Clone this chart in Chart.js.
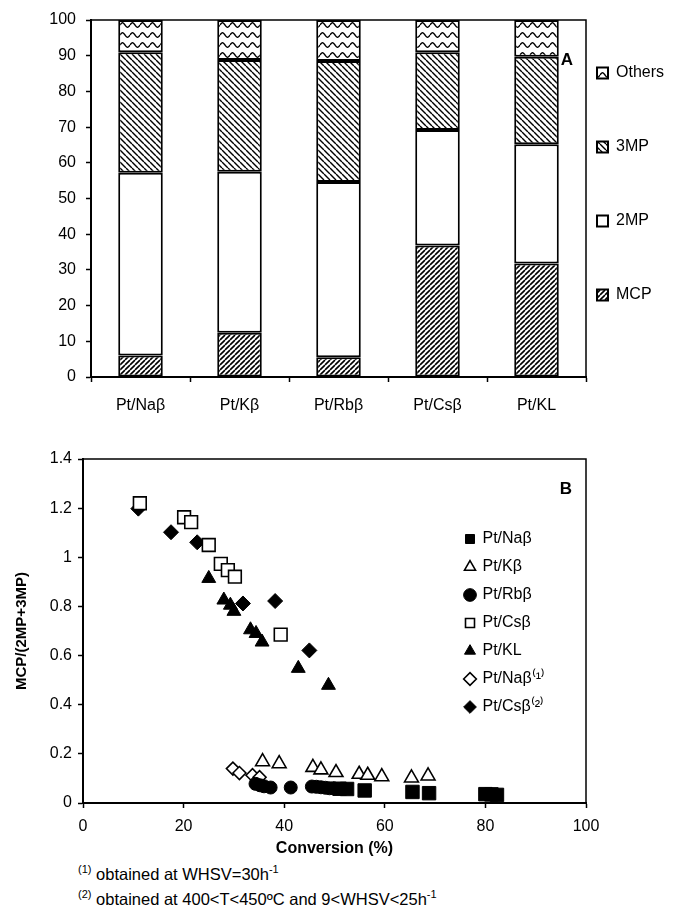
<!DOCTYPE html>
<html>
<head>
<meta charset="utf-8">
<script src="https://cdn.jsdelivr.net/npm/chart.js@4.4.1/dist/chart.umd.min.js"></script>
<style>
  html, body { margin: 0; padding: 0; background: #fff; }
  #wrap { position: relative; width: 675px; height: 919px; font-family: 'Liberation Sans', Arial, sans-serif; color: #000; }
  #barChart { position: absolute; left: 0; top: 0; }
  #scatterChart { position: absolute; left: 0; top: 430px; }
  .note { position: absolute; left: 78px; font-size: 16.5px; white-space: nowrap; }
  .note sup { font-size: 11px; }
</style>
</head>
<body>
<div id="wrap">
  <canvas id="barChart" width="675" height="420"></canvas>
  <canvas id="scatterChart" width="675" height="430"></canvas>
  <div class="note" style="top:863px"><sup>(1)</sup> obtained at WHSV=30h<sup>-1</sup></div>
  <div class="note" style="top:888px"><sup>(2)</sup> obtained at 400&lt;T&lt;450ºC and 9&lt;WHSV&lt;25h<sup>-1</sup></div>
</div>
<script>
// panel A: product distribution (%)
const catalysts = ['Pt/Naβ', 'Pt/Kβ', 'Pt/Rbβ', 'Pt/Csβ', 'Pt/KL'];
const mcpVals = [6.0, 12.4, 5.5, 36.8, 31.8];
const twoMpVals = [51.2, 45.1, 49.1, 32.4, 33.4];
const threeMpVals = [33.8, 31.3, 33.9, 21.8, 24.5];
const otherVals = [9.0, 11.2, 11.5, 9.0, 10.3];

// panel B: MCP/(2MP+3MP) against conversion
const naX = [51.0, 52.5, 56.0, 65.5, 68.8, 80.0, 81.2, 82.3];
const naY = [0.058, 0.057, 0.051, 0.045, 0.040, 0.036, 0.035, 0.033];
const kX = [35.7, 39.0, 45.7, 47.3, 50.3, 54.9, 56.6, 59.4, 65.3, 68.6];
const kY = [0.168, 0.160, 0.145, 0.135, 0.124, 0.117, 0.113, 0.107, 0.102, 0.110];
const rbX = [34.3, 35.2, 36.0, 37.3, 41.3, 45.5, 46.4, 47.3, 48.2, 49.0, 49.8];
const rbY = [0.078, 0.072, 0.068, 0.063, 0.063, 0.067, 0.066, 0.064, 0.062, 0.060, 0.060];
const csX = [11.3, 20.1, 21.5, 25.0, 27.4, 28.8, 30.2, 39.3];
const csY = [1.22, 1.163, 1.143, 1.050, 0.973, 0.948, 0.921, 0.685];
const klX = [25.0, 28.0, 29.3, 30.0, 33.3, 34.4, 35.6, 42.8, 48.8];
const klY = [0.914, 0.826, 0.805, 0.780, 0.705, 0.690, 0.655, 0.548, 0.479];
const na1X = [29.8, 31.1, 33.7, 35.1];
const na1Y = [0.140, 0.122, 0.113, 0.105];
const cs2X = [11.0, 17.5, 22.7, 31.8, 38.2, 45.0];
const cs2Y = [1.198, 1.102, 1.061, 0.812, 0.822, 0.621];

const FONT = "'Liberation Sans', Arial, sans-serif";
Chart.defaults.font.family = FONT;
Chart.defaults.font.size = 16;
Chart.defaults.color = '#000';

function zip(xs, ys) {
    return xs.map((x, i) => ({ x: x, y: ys[i] }));
}

function hatch(kind) {
    const c = document.createElement('canvas');
    const size = kind === 'wave' ? 10 : (kind === 'fwd' ? 5 : 6);
    c.width = size;
    c.height = size;
    const g = c.getContext('2d');
    g.fillStyle = '#fff';
    g.fillRect(0, 0, size, size);
    g.strokeStyle = '#000';
    g.beginPath();
    if (kind === 'wave') {
        g.lineWidth = 1.4;
        for (let x = 0; x <= size; x += 0.5) {
            const y = 5 - 2.2 * Math.sin(2 * Math.PI * x / size);
            if (x === 0) g.moveTo(x, y); else g.lineTo(x, y);
        }
    } else if (kind === 'fwd') {
        g.lineWidth = 1.6;
        for (const k of [-size, 0, size]) { g.moveTo(k, size); g.lineTo(k + size, 0); }
    } else {
        g.lineWidth = 1.4;
        for (const k of [-size, 0, size]) { g.moveTo(k, 0); g.lineTo(k + size, size); }
    }
    g.stroke();
    return g.createPattern(c, 'repeat');
}

// moves a legend drawn in the chart area to a fixed spot
const legendSpot = {
    id: 'legendSpot',
    afterLayout(chart, args, opts) {
        const lg = chart.legend;
        if (!lg || opts.x == null) return;
        const pad = lg.options.labels.padding;
        lg.left = opts.x - pad;
        lg.top = opts.y - pad;
        lg.width = 250;
        lg.height = 700;
        lg.right = lg.left + lg.width;
        lg.bottom = lg.top + lg.height;
    }
};

const frame = {
    id: 'frame',
    afterDraw(chart, args, opts) {
        const { ctx, chartArea: a } = chart;
        ctx.save();
        ctx.strokeStyle = '#000';
        ctx.lineWidth = 1.5;
        ctx.strokeRect(a.left, a.top, a.right - a.left, a.bottom - a.top);
        ctx.font = 'bold 17px ' + FONT;
        ctx.fillStyle = '#000';
        ctx.textAlign = 'center';
        ctx.textBaseline = 'middle';
        ctx.fillText(opts.tag, opts.tagX, opts.tagY);
        ctx.restore();
    }
};

const axisGrid = { drawOnChartArea: false, tickLength: 5, color: '#000', tickWidth: 1.5 };
const axisBorder = { color: '#000', width: 2 };

const barSets = [
    { label: 'MCP', data: mcpVals, backgroundColor: hatch('fwd') },
    { label: '2MP', data: twoMpVals, backgroundColor: '#fff' },
    { label: '3MP', data: threeMpVals, backgroundColor: hatch('back') },
    { label: 'Others', data: otherVals, backgroundColor: hatch('wave') }
].map(d => Object.assign(d, {
    borderColor: '#000',
    borderWidth: 2,
    borderSkipped: false,
    barPercentage: 0.45,
    categoryPercentage: 1
}));

new Chart(document.getElementById('barChart'), {
    type: 'bar',
    data: { labels: catalysts, datasets: barSets },
    options: {
        responsive: false,
        animation: false,
        layout: { padding: { top: 20, right: 89, left: 0, bottom: 0 } },
        scales: {
            x: {
                stacked: true,
                grid: Object.assign({ offset: true }, axisGrid),
                border: axisBorder,
                ticks: { padding: 14 },
                afterFit: s => { s.height = 43; }
            },
            y: {
                stacked: true,
                min: 0,
                max: 100,
                grid: axisGrid,
                border: axisBorder,
                ticks: { stepSize: 10, padding: 10 },
                afterFit: s => { s.width = 91; }
            }
        },
        plugins: {
            legend: {
                position: 'chartArea',
                align: 'start',
                reverse: true,
                labels: { boxWidth: 11, boxHeight: 11, padding: 58, font: { size: 16 } }
            },
            tooltip: { enabled: false },
            legendSpot: { x: 597, y: 65 },
            frame: { tag: 'A', tagX: 567, tagY: 60 }
        }
    },
    plugins: [legendSpot, frame]
});

function marker(label, xs, ys, style, filled, radius) {
    return {
        label: label,
        data: zip(xs, ys),
        pointStyle: style,
        pointRadius: radius,
        pointBackgroundColor: filled ? '#000' : '#fff',
        pointBorderColor: '#000',
        pointBorderWidth: filled ? 1 : 1.6,
        backgroundColor: filled ? '#000' : '#fff',
        borderColor: '#000',
        borderWidth: filled ? 1 : 1.6
    };
}

new Chart(document.getElementById('scatterChart'), {
    type: 'scatter',
    data: {
        datasets: [
            marker('Pt/Naβ', naX, naY, 'rect', true, 9.5),
            marker('Pt/Kβ', kX, kY, 'triangle', false, 8),
            marker('Pt/Rbβ', rbX, rbY, 'circle', true, 6.5),
            marker('Pt/Csβ', csX, csY, 'rect', false, 9),
            marker('Pt/KL', klX, klY, 'triangle', true, 8),
            marker('Pt/Naβ⁽¹⁾', na1X, na1Y, 'rectRot', false, 6.5),
            marker('Pt/Csβ⁽²⁾', cs2X, cs2Y, 'rectRot', true, 7.5)
        ]
    },
    options: {
        responsive: false,
        animation: false,
        layout: { padding: { top: 29, right: 89, left: 0, bottom: 2 } },
        scales: {
            x: {
                type: 'linear',
                min: 0,
                max: 100,
                grid: axisGrid,
                border: axisBorder,
                ticks: { stepSize: 20, padding: 9 },
                title: { display: true, text: 'Conversion (%)', font: { size: 16, weight: 'bold' }, padding: 0 },
                afterFit: s => { s.height = 55; }
            },
            y: {
                min: 0,
                max: 1.4,
                grid: axisGrid,
                border: axisBorder,
                ticks: { stepSize: 0.2, padding: 6, callback: v => String(Number(v.toFixed(1))) },
                title: { display: true, text: 'MCP/(2MP+3MP)', font: { size: 15, weight: 'bold' }, padding: { top: 13, bottom: 0 } },
                afterFit: s => { s.width = 83; }
            }
        },
        plugins: {
            legend: {
                position: 'chartArea',
                align: 'start',
                labels: { usePointStyle: true, boxWidth: 9, boxHeight: 9, padding: 12, font: { size: 16 } }
            },
            tooltip: { enabled: false },
            legendSpot: { x: 465.5, y: 101 },
            frame: { tag: 'B', tagX: 566, tagY: 59 }
        }
    },
    plugins: [legendSpot, frame]
});
</script>
</body>
</html>
